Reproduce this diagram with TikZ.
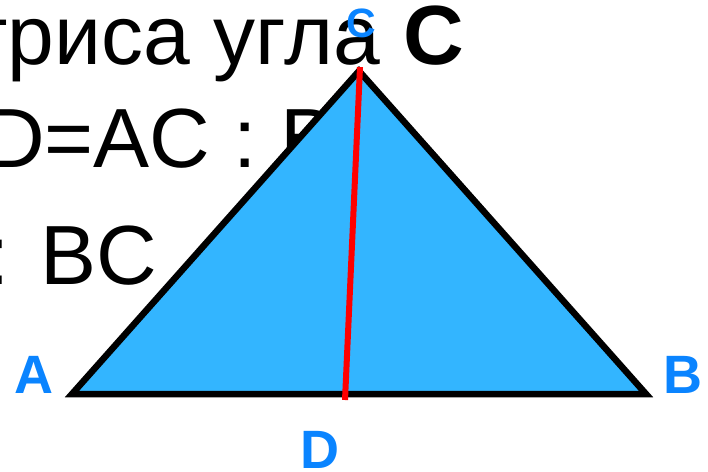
\documentclass[tikz,border=0pt]{standalone}
\usepackage{fontspec}
\setmainfont{Liberation Sans}
\usepackage{xcolor}
\usepackage{tikz}
\usetikzlibrary{positioning}
\definecolor{tFill}{HTML}{33B5FF}
\definecolor{tLabel}{HTML}{0A84FF}
\definecolor{tBis}{HTML}{FF0000}

\tikzset{
  bigtext/.style={inner sep=0pt, font=\fontsize{84}{84}\selectfont, text=black},
  vlabel/.style={inner sep=0pt, anchor=base, text=tLabel, font=\bfseries\fontsize{54}{54}\selectfont},
}

\begin{document}
\begin{tikzpicture}[x=1pt, y=-1pt]
  \useasboundingbox (0,0) rectangle (708,471);
  \clip (0,0) rectangle (708,471);
  % text behind the triangle
  \node[bigtext, anchor=base east] (line1) at (464,64) {триса угла \textbf{C}};
  \node[bigtext, anchor=base west] (line2) at (-16,167) {D=AC : B};
  \node[bigtext, anchor=base west] (line3) at (-14,284) {: BC};
  % triangle and bisector
  \coordinate (A) at (72,394);
  \coordinate (B) at (646,394);
  \coordinate (C) at (359,71);
  \coordinate (D) at (345,400);
  \coordinate (Ctop) at (360,67);
  \filldraw[fill=tFill, draw=black, line width=6.5pt, miter limit=10] (A) -- (B) -- (C) -- cycle;
  \draw[tBis, line width=6pt] (Ctop) -- (D);
  % vertex labels
  \node[vlabel] (labA) at (34,393) {A};
  \node[vlabel] (labB) at (683,393) {B};
  \node[vlabel, font=\bfseries\fontsize{41}{41}\selectfont] (labC) at (361,37) {C};
  \node[vlabel] (labD) at (320,468) {D};
\end{tikzpicture}
\end{document}
